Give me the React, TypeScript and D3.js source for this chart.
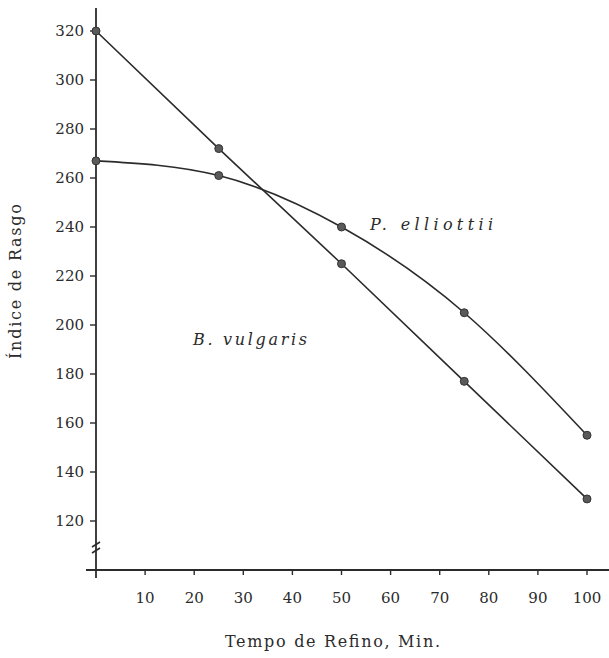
import {default as React, useEffect, useRef} from "react";
import * as d3 from "d3";

// refining time (min)
const tempos = [0, 25, 50, 75, 100];
// tear index per species
const bVulgaris = [320, 272, 225, 177, 129];
const pElliottii = [267, 261, 240, 205, 155];

const yTicks = [120, 140, 160, 180, 200, 220, 240, 260, 280, 300, 320];
const xTicks = [10, 20, 30, 40, 50, 60, 70, 80, 90, 100];

const width = 609;
const height = 658;
const ink = "#2b2b2b";
const typeFont = "DejaVu Serif";

function App(): JSX.Element {
    const svgRef = useRef<SVGSVGElement>(null);

    useEffect(() => {
        if (!svgRef.current) return;
        const svg = d3.select(svgRef.current);
        svg.selectAll("*").remove();

        const x = d3.scaleLinear().domain([0, 100]).range([96, 587]);
        const y = d3.scaleLinear().domain([120, 320]).range([521, 31]);
        const axisY = 570;

        const g = svg.append("g");

        // y axis line (runs past the x axis a little)
        g.append("line")
            .attr("x1", x(0)).attr("x2", x(0))
            .attr("y1", 8).attr("y2", axisY + 8)
            .attr("stroke", ink).attr("stroke-width", 1.8);

        // axis break marks
        [545, 551].forEach(yy => g.append("line")
            .attr("x1", x(0) - 4).attr("x2", x(0) + 4)
            .attr("y1", yy + 2).attr("y2", yy - 3)
            .attr("stroke", ink).attr("stroke-width", 1.6));

        // x axis line
        g.append("line")
            .attr("x1", 86).attr("x2", width)
            .attr("y1", axisY).attr("y2", axisY)
            .attr("stroke", ink).attr("stroke-width", 1.8);

        // y ticks + labels
        const yt = g.append("g").selectAll("g").data(yTicks).enter().append("g");
        yt.append("line")
            .attr("x1", x(0) - 6).attr("x2", x(0))
            .attr("y1", d => y(d)).attr("y2", d => y(d))
            .attr("stroke", ink).attr("stroke-width", 1.4);
        yt.append("text")
            .attr("x", x(0) - 12).attr("y", d => y(d) + 5)
            .attr("text-anchor", "end")
            .attr("font-family", typeFont).attr("font-size", 15)
            .attr("fill", ink)
            .text(d => d);

        // x ticks + labels
        const xt = g.append("g").selectAll("g").data(xTicks).enter().append("g");
        xt.append("line")
            .attr("x1", d => x(d)).attr("x2", d => x(d))
            .attr("y1", axisY).attr("y2", axisY + 5)
            .attr("stroke", ink).attr("stroke-width", 1.4);
        xt.append("text")
            .attr("x", d => x(d)).attr("y", axisY + 33)
            .attr("text-anchor", "middle")
            .attr("font-family", typeFont).attr("font-size", 15)
            .attr("fill", ink)
            .text(d => d);

        // axis titles (typewritten look: spread out to the original widths)
        g.append("text")
            .attr("x", 225).attr("y", 647)
            .attr("font-family", typeFont).attr("font-size", 16)
            .attr("textLength", 215).attr("lengthAdjust", "spacing")
            .attr("fill", ink)
            .text("Tempo de Refino, Min.");

        g.append("text")
            .attr("transform", "translate(21, 359) rotate(-90)")
            .attr("font-family", typeFont).attr("font-size", 16)
            .attr("textLength", 155).attr("lengthAdjust", "spacing")
            .attr("fill", ink)
            .text("Índice de Rasgo");

        // series
        const series = [
            {name: "B. vulgaris", values: bVulgaris, curve: d3.curveLinear},
            {name: "P. elliottii", values: pElliottii, curve: d3.curveNatural},
        ];

        series.forEach(s => {
            const pts: Array<[number, number]> = tempos.map((t, i) => [t, s.values[i]]);
            const line = d3.line<[number, number]>()
                .x(d => x(d[0]))
                .y(d => y(d[1]))
                .curve(s.curve);
            g.append("path")
                .attr("d", line(pts) || "")
                .attr("fill", "none")
                .attr("stroke", ink)
                .attr("stroke-width", 1.6);
            g.append("g").selectAll("circle").data(pts).enter().append("circle")
                .attr("cx", d => x(d[0]))
                .attr("cy", d => y(d[1]))
                .attr("r", 4)
                .attr("fill", "#5a5a5a")
                .attr("stroke", "#333")
                .attr("stroke-width", 1);
        });

        // species labels
        g.append("text")
            .attr("x", 370).attr("y", 230)
            .attr("font-family", typeFont).attr("font-style", "italic")
            .attr("font-size", 16).attr("fill", ink)
            .attr("textLength", 123).attr("lengthAdjust", "spacing")
            .text("P. elliottii");
        g.append("text")
            .attr("x", 193).attr("y", 345)
            .attr("font-family", typeFont).attr("font-style", "italic")
            .attr("font-size", 16).attr("fill", ink)
            .attr("textLength", 114).attr("lengthAdjust", "spacing")
            .text("B. vulgaris");
    }, []);

    return (
        <svg
            ref={svgRef}
            width={width}
            height={height}
            style={{display: "block", position: "absolute", left: 0, top: 0, background: "#fff"}}
        />
    );
}

export default App;
